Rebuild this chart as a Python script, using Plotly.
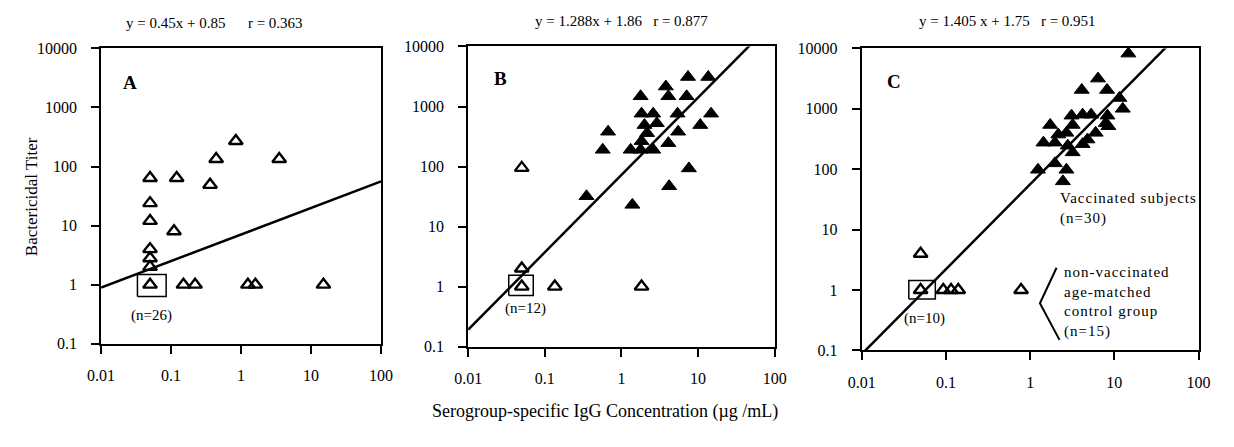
import plotly.graph_objects as go
import numpy as np

W, H = 1234, 447

# ---------------- data ----------------
# Panel A (all non-vaccinated / open symbols)
a_open_x = [0.05, 0.05, 0.05, 0.05, 0.05, 0.05, 0.05, 0.12, 0.11, 0.36, 0.44, 0.84, 3.5, 0.15, 0.22, 1.25, 1.6, 15]
a_open_y = [64, 24, 12, 4, 2.8, 2, 1, 64, 8, 49, 134, 270, 134, 1, 1, 1, 1, 1]

# Panel B
b_open_x = [0.05, 0.05, 0.05, 0.135, 1.83]
b_open_y = [95, 2, 1, 1, 1]
b_fill_x = [7.4, 13.6, 3.8, 4.1, 7.1, 1.78, 1.83, 2.6, 5.4, 14.8, 2.0, 2.9, 10.7, 0.67, 5.5, 2.16,
            4.1, 0.57, 1.32, 1.78, 2.6, 1.83, 7.6, 4.2, 0.35, 1.39]
b_fill_y = [3100, 3100, 2150, 1480, 1480, 1480, 760, 760, 760, 760, 490, 525, 490, 380, 380, 360,
            245, 190, 190, 190, 190, 265, 93, 47, 32, 23]

# Panel C
c_open_x = [0.05, 0.05, 0.093, 0.115, 0.14, 0.78]
c_open_y = [4, 1, 1, 1, 1, 1]
c_fill_x = [14.7, 6.4, 4.1, 8.2, 11.5, 12.6, 3.1, 4.2, 5.3, 8.3, 8.5, 1.73, 3.2, 1.44, 1.97, 2.7,
            2.8, 4.2, 6.0, 7.9, 3.2, 1.24, 1.97, 2.7, 2.45, 4.8, 2.16]
c_fill_y = [8200, 3160, 2050, 2050, 1510, 1000, 770, 800, 800, 770, 515, 540, 540, 275, 275, 400,
            245, 260, 400, 575, 190, 98, 125, 98, 63, 310, 375]

# regression lines (log10 y = slope * log10 x + intercept)
slopes = [0.45, 1.288, 1.405]
intercepts = [0.85, 1.86, 1.75]
titles = ["y = 0.45x + 0.85      r = 0.363",
          "y = 1.288x + 1.86   r = 0.877",
          "y = 1.405 x + 1.75   r = 0.951"]
letters = ["A", "B", "C"]
n_labels = ["(n=26)", "(n=12)", "(n=10)"]

x_tickvals = [0.01, 0.1, 1, 10, 100]
x_ticktext = ["0.01", "0.1", "1", "10", "100"]
y_tickvals = [0.1, 1, 10, 100, 1000, 10000]
y_ticktext = ["0.1", "1", "10", "100", "1000", "10000"]

# ---------------- layout geometry (pixels) ----------------
panels = [  # left, right, top, bottom
    (89, 375, 42, 349),
    (464, 777, 40, 352),
    (866, 1210, 42, 356),
]

def px(x):
    return x / W

def py(y):
    return 1 - y / H

FONT = "Liberation Serif, Times New Roman, serif"

def spaced(s, sp=1.0):
    return f'<span style="letter-spacing:{sp}px">{s}</span>'

fig = go.Figure()

open_sets = [(a_open_x, a_open_y), (b_open_x, b_open_y), (c_open_x, c_open_y)]
fill_sets = [None, (b_fill_x, b_fill_y), (c_fill_x, c_fill_y)]
box_half = [(0.18, 0.23, 0.17, 0.20), (0.17, 0.15, 0.19, 0.15), (0.14, 0.175, 0.16, 0.15)]

for i in range(3):
    xa = "x" if i == 0 else f"x{i+1}"
    ya = "y" if i == 0 else f"y{i+1}"
    # regression line
    lx = np.logspace(-2, 2, 60)
    ly = 10 ** (slopes[i] * np.log10(lx) + intercepts[i])
    fig.add_trace(go.Scatter(x=lx, y=ly, mode="lines", line=dict(color="black", width=2.5),
                             xaxis=xa, yaxis=ya, showlegend=False, hoverinfo="skip"))
    # box around the clustered point at (0.05, 1)
    l, r, t, b = box_half[i]
    bx = [0.05 * 10 ** -l, 0.05 * 10 ** r, 0.05 * 10 ** r, 0.05 * 10 ** -l, 0.05 * 10 ** -l]
    by = [10 ** -b, 10 ** -b, 10 ** t, 10 ** t, 10 ** -b]
    fig.add_trace(go.Scatter(x=bx, y=by, mode="lines", line=dict(color="black", width=1.5),
                             xaxis=xa, yaxis=ya, showlegend=False, hoverinfo="skip"))
    # filled (vaccinated)
    if fill_sets[i] is not None:
        fx, fy = fill_sets[i]
        fig.add_trace(go.Scatter(x=fx, y=fy, mode="markers",
                                 marker=dict(symbol="triangle-up", size=13, color="black",
                                             line=dict(color="black", width=1)),
                                 xaxis=xa, yaxis=ya, showlegend=False, cliponaxis=False))
    # open (non-vaccinated)
    ox, oy = open_sets[i]
    fig.add_trace(go.Scatter(x=ox, y=oy, mode="markers",
                             marker=dict(symbol="triangle-up-open", size=12, color="black",
                                         line=dict(color="black", width=2.4)),
                             xaxis=xa, yaxis=ya, showlegend=False, cliponaxis=False))

layout = dict(
    width=W, height=H,
    margin=dict(l=0, r=0, t=0, b=0),
    paper_bgcolor="white", plot_bgcolor="white",
    font=dict(family=FONT, color="black", size=16),
    showlegend=False,
)

annotations = []
for i, (L, R, T, B) in enumerate(panels):
    sfx = "" if i == 0 else str(i + 1)
    common = dict(showline=True, linecolor="black", linewidth=2, mirror=True,
                  ticks="outside", ticklen=8, tickwidth=2, tickcolor="black",
                  showgrid=False, zeroline=False, type="log",
                  tickfont=dict(family=FONT, size=16, color="black"))
    layout["xaxis" + sfx] = dict(common, domain=[px(L), px(R)], range=[-2, 2],
                                 tickvals=x_tickvals, ticktext=x_ticktext,
                                 anchor="y" + sfx, ticklabelstandoff=8)
    layout["yaxis" + sfx] = dict(common, domain=[py(B), py(T)], range=[-1, 4],
                                 tickvals=y_tickvals, ticktext=y_ticktext,
                                 anchor="x" + sfx, ticklabelstandoff=11)

# titles above panels
title_pos = [(205, 16), (621, 13), (1015, 14)]
for i, (tx, ty) in enumerate(title_pos):
    annotations.append(dict(text=titles[i], x=px(tx), y=py(ty), xref="paper", yref="paper",
                            showarrow=False, font=dict(size=15), xanchor="center", yanchor="middle"))
# panel letters
letter_pos = [(119, 77), (497, 73), (899, 76)]
for i, (tx, ty) in enumerate(letter_pos):
    annotations.append(dict(text="<b>" + letters[i] + "</b>", x=px(tx), y=py(ty), xref="paper",
                            yref="paper", showarrow=False, font=dict(size=19),
                            xanchor="center", yanchor="middle"))
# n labels
n_pos = [(140, 320), (523, 312), (930, 323)]
for i, (tx, ty) in enumerate(n_pos):
    annotations.append(dict(text=n_labels[i], x=px(tx), y=py(ty), xref="paper", yref="paper",
                            showarrow=False, font=dict(size=15), xanchor="center", yanchor="middle"))

# legend-like labels in panel C
annotations.append(dict(text=spaced("Vaccinated subjects") + "<br>" + spaced("(n=30)"),
                        x=px(1066), y=py(208), xref="paper",
                        yref="paper", showarrow=False, font=dict(size=15), xanchor="left",
                        yanchor="middle", align="left"))
annotations.append(dict(text="<br>".join(spaced(s) for s in
                                         ["non-vaccinated", "age-matched", "control group", "(n=15)"]),
                        x=px(1071), y=py(306), xref="paper", yref="paper", showarrow=False,
                        font=dict(size=15), xanchor="left", yanchor="middle", align="left"))

# axis titles
annotations.append(dict(text="Bactericidal Titer", x=px(18), y=py(196), xref="paper", yref="paper",
                        showarrow=False, textangle=-90, font=dict(size=17),
                        xanchor="center", yanchor="middle"))
annotations.append(dict(text="Serogroup-specific IgG Concentration (µg /mL)", x=px(604), y=py(419),
                        xref="paper", yref="paper", showarrow=False, font=dict(size=18),
                        xanchor="center", yanchor="middle"))

layout["annotations"] = annotations

# bracket in panel C
layout["shapes"] = [dict(type="path", xref="paper", yref="paper",
                         path=f"M {px(1065)},{py(270)} L {px(1048)},{py(307)} L {px(1068)},{py(345)}",
                         line=dict(color="black", width=2))]

fig.update_layout(**layout)
fig.write_html("out.html")
